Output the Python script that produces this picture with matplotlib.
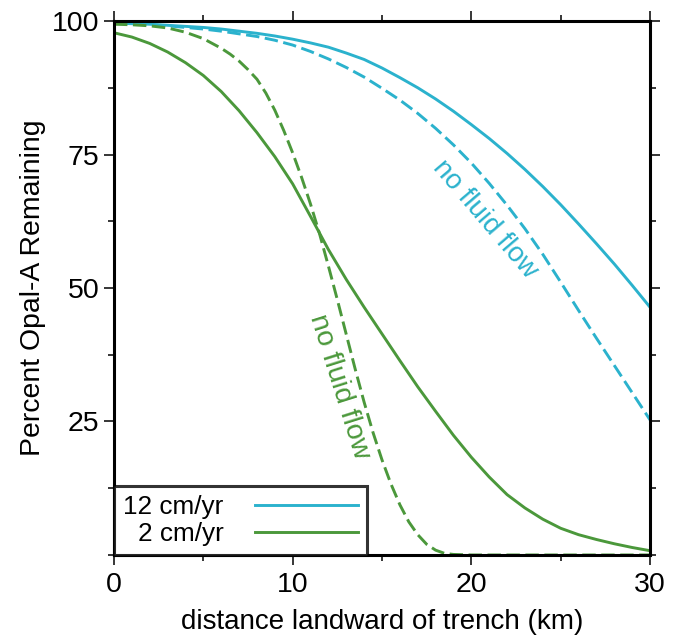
import matplotlib
matplotlib.use("Agg")
import matplotlib.pyplot as plt
from matplotlib.ticker import MultipleLocator

# Distance landward of trench (km) and percent Opal-A remaining
x_fast = list(range(0, 31))
fast_flow = [99.6, 99.5, 99.4, 99.2, 99.0, 98.8, 98.5, 98.1, 97.7, 97.2, 96.6,
             95.9, 95.1, 94.0, 92.8, 91.2, 89.4, 87.5, 85.4, 83.1, 80.6, 78.0,
             75.2, 72.2, 69.0, 65.6, 62.0, 58.3, 54.5, 50.5, 46.4]
fast_noflow = [99.6, 99.5, 99.3, 99.1, 98.8, 98.5, 98.1, 97.6, 97.1, 96.4, 95.5,
               94.3, 92.9, 91.3, 89.5, 87.4, 85.2, 82.7, 79.9, 76.8, 73.4, 69.6,
               65.5, 61.1, 56.3, 51.1, 45.8, 40.6, 35.5, 30.4, 25.3]

x_slow = list(range(0, 31))
slow_flow = [97.8, 97.0, 95.8, 94.2, 92.2, 89.8, 86.8, 83.2, 79.1, 74.6, 69.5,
             63.4, 57.2, 51.6, 46.4, 41.4, 36.4, 31.5, 26.9, 22.4, 18.3, 14.6,
             11.3, 8.8, 6.7, 5.0, 3.8, 2.9, 2.1, 1.4, 0.8]

x_slow_nf = [0, 1, 2, 3, 4, 5, 6, 6.5, 7, 7.5, 8, 8.5, 9, 9.5, 10, 10.5, 11,
             11.5, 12, 12.5, 13, 13.5, 14, 14.5, 15, 15.5, 16, 16.5, 17, 17.5,
             18, 18.5, 19, 20, 22, 24, 26, 28, 30]
slow_noflow = [99.4, 99.3, 99.1, 98.7, 97.9, 96.7, 94.9, 93.8, 92.5, 90.9, 89.1,
               86.5, 83.3, 79.5, 75.3, 70.7, 65.7, 60.2, 54.1, 47.8, 41.3, 34.8,
               28.6, 22.9, 17.8, 13.3, 9.4, 6.2, 3.8, 2.0, 0.9, 0.3, 0.1, 0.0,
               0.0, 0.0, 0.0, 0.0, 0.0]

series_labels = ["12 cm/yr", "2 cm/yr"]
note_text = "no fluid flow"

CYAN = "#2bb2cd"
GREEN = "#4b983b"

plt.rcParams["font.family"] = ["Liberation Sans", "DejaVu Sans"]

fig = plt.figure(figsize=(6.75, 6.43), dpi=100)
ax = fig.add_axes([0.1689, 0.1369, 0.7941, 0.8304])

lw = 2.1
dash = (0, (4.6, 1.9))
l1, = ax.plot(x_fast, fast_flow, color=CYAN, lw=lw, label=series_labels[0],
              solid_joinstyle="round")
ax.plot(x_fast, fast_noflow, color=CYAN, lw=lw, linestyle=dash)
l2, = ax.plot(x_slow, slow_flow, color=GREEN, lw=lw, label=series_labels[1],
              solid_joinstyle="round")
ax.plot(x_slow_nf, slow_noflow, color=GREEN, lw=lw, linestyle=dash)

ax.set_xlim(0, 30)
ax.set_ylim(0, 100)

ax.xaxis.set_major_locator(MultipleLocator(10))
ax.xaxis.set_minor_locator(MultipleLocator(5))
ax.yaxis.set_major_locator(MultipleLocator(25))
ax.yaxis.set_minor_locator(MultipleLocator(12.5))
ax.tick_params(which="both", direction="out", top=True, right=True,
               width=1.1, labelsize=20.5, labelcolor="black")
ax.tick_params(which="major", length=7.5)
ax.tick_params(which="minor", length=4)
ax.tick_params(axis="y", pad=3)
ax.tick_params(axis="x", pad=5)
ax.set_yticks([25, 50, 75, 100])
ax.set_yticklabels(["25", "50", "75", "100"])
for s in ax.spines.values():
    s.set_linewidth(2.2)

ax.set_xlabel("distance landward of trench (km)", fontsize=20, labelpad=8)
ax.set_ylabel("Percent Opal-A Remaining", fontsize=20.4, labelpad=4)

ax.text(20.75, 62.8, note_text, color=CYAN, fontsize=20, rotation=-49.5,
        ha="center", va="center", rotation_mode="anchor")
ax.text(12.6, 31.6, note_text, color=GREEN, fontsize=20.5, rotation=-72.5,
        ha="center", va="center", rotation_mode="anchor")

leg = ax.legend(handles=[l1, l2], loc="lower left", bbox_to_anchor=(0.0, 0.0),
                fontsize=18.8, frameon=True, fancybox=False, markerfirst=False,
                handlelength=3.95, handletextpad=1.2, borderpad=0.35,
                labelspacing=0.12, borderaxespad=0.0)
fr = leg.get_frame()
fr.set_edgecolor("black")
fr.set_linewidth(2.2)
for t in leg.get_texts():
    t.set_ha("right")

fig.savefig("out.png", dpi=100)
